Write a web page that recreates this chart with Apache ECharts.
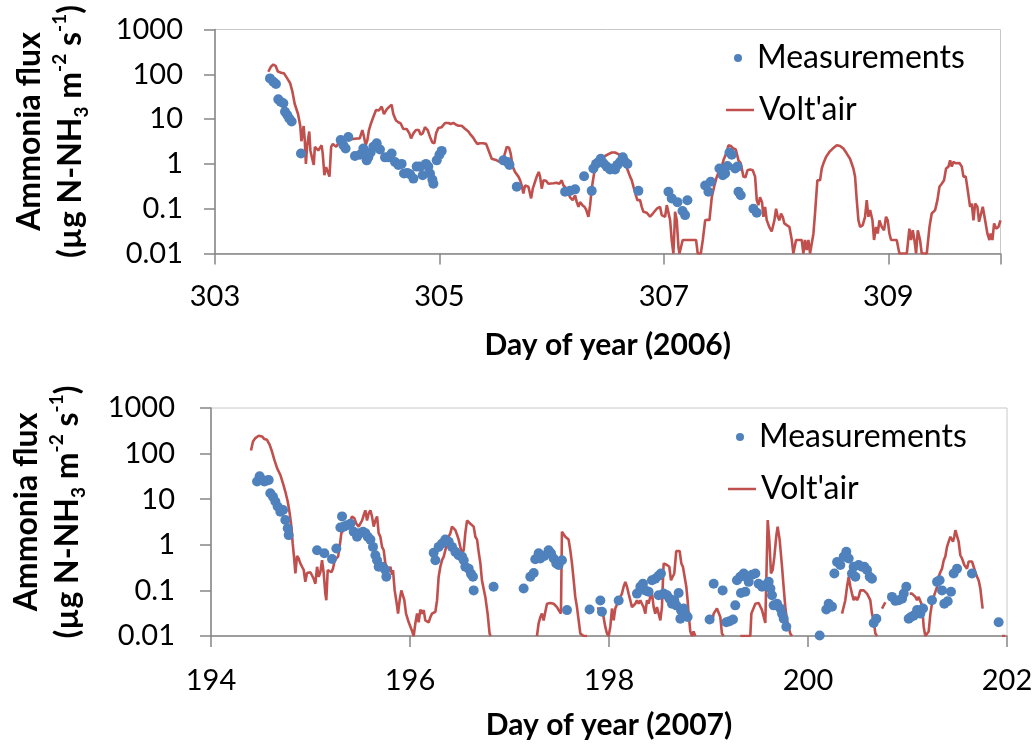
<!DOCTYPE html>
<html>
<head>
<meta charset="utf-8">
<script src="https://cdn.jsdelivr.net/npm/echarts@6/dist/echarts.min.js"></script>
<style>
  html, body { margin: 0; padding: 0; background: #fff; }
  #chart { width: 1035px; height: 745px; }
</style>
</head>
<body>
<div id="chart"></div>
<script>
// y tick labels (log axis, both panels)
const yTickLabels = ['0.01', '0.1', '1', '10', '100', '1000']
const xTicks2006 = [303, 305, 307, 309]
const xTicks2007 = [194, 196, 198, 200, 202]

// --- 2006 : Volt'air model
const line2006Day = [
  303.475, 303.50, 303.52, 303.54, 303.56, 303.59, 303.615, 303.645, 303.67, 303.69, 303.71, 303.74,
  303.76, 303.77, 303.79, 303.80, 303.81, 303.82, 303.84, 303.85, 303.87, 303.88, 303.89, 303.905,
  303.92, 303.935, 303.95, 303.96, 303.975, 303.99, 304.00, 304.02, 304.035, 304.05, 304.065, 304.08,
  304.095, 304.14, 304.23, 304.26, 304.29, 304.313, 304.328, 304.343, 304.358, 304.372, 304.39, 304.41,
  304.435, 304.46, 304.485, 304.506, 304.53, 304.554, 304.574, 304.589, 304.613, 304.634, 304.655, 304.678,
  304.708, 304.732, 304.747, 304.768, 304.791, 304.815, 304.833, 304.851, 304.871, 304.895, 304.916, 304.937,
  304.955, 304.97, 304.99, 305.02, 305.05, 305.08, 305.10, 305.124, 305.148, 305.171, 305.198, 305.228,
  305.258, 305.278, 305.302, 305.32, 305.338, 305.362, 305.39, 305.416, 305.428, 305.445, 305.466, 305.481,
  305.511, 305.54, 305.57, 305.6, 305.62, 305.635, 305.653, 305.674, 305.689, 305.704, 305.719, 305.733,
  305.748, 305.763, 305.778, 305.793, 305.808, 305.817, 305.832, 305.846, 305.867, 305.885, 305.897, 305.912,
  305.927, 305.95, 305.971, 305.986, 306.016, 306.045, 306.069, 306.09, 306.105, 306.135, 306.149, 306.164,
  306.188, 306.209, 306.224, 306.239, 306.253, 306.274, 306.292, 306.307, 306.328, 306.343, 306.357, 306.378,
  306.396, 306.417, 306.447, 306.476, 306.506, 306.536, 306.565, 306.595, 306.625, 306.655, 306.684, 306.699,
  306.714, 306.729, 306.75, 306.764, 306.788, 306.803, 306.818, 306.848, 306.877, 306.907, 306.937, 306.952,
  306.966, 306.981, 306.996, 307.011, 307.026, 307.041, 307.056, 307.07, 307.085, 307.094, 307.1, 307.115,
  307.13, 307.139, 307.151, 307.168, 307.204, 307.234, 307.264, 307.287, 307.302, 307.329, 307.347, 307.368,
  307.388, 307.406, 307.427, 307.448, 307.472, 307.495, 307.516, 307.531, 307.555, 307.576, 307.596, 307.62,
  307.641, 307.665, 307.685, 307.709, 307.727, 307.745, 307.769, 307.792, 307.813, 307.828, 307.842, 307.857,
  307.875, 307.887, 307.902, 307.917, 307.94, 307.961, 307.976, 307.985, 308.0, 308.015, 308.03, 308.044,
  308.059, 308.074, 308.095, 308.119, 308.14, 308.154, 308.178, 308.199, 308.229, 308.243, 308.258, 308.273,
  308.288, 308.303, 308.318, 308.333, 308.347, 308.368, 308.392, 308.407, 308.422, 308.446, 308.475, 308.505,
  308.541, 308.57, 308.6, 308.63, 308.659, 308.689, 308.704, 308.719, 308.734, 308.749, 308.772, 308.793,
  308.808, 308.823, 308.838, 308.859, 308.873, 308.891, 308.906, 308.921, 308.942, 308.962, 308.98, 308.995,
  309.01, 309.025, 309.046, 309.075, 309.099, 309.135, 309.165, 309.188, 309.203, 309.218, 309.233, 309.248,
  309.263, 309.283, 309.298, 309.322, 309.343, 309.367, 309.387, 309.417, 309.438, 309.456, 309.476, 309.497,
  309.515, 309.536, 309.551, 309.566, 309.58, 309.604, 309.634, 309.655, 309.67, 309.69, 309.708, 309.729,
  309.744, 309.759, 309.774, 309.794, 309.809, 309.827, 309.842, 309.863, 309.883, 309.901, 309.913, 309.928,
  309.943, 309.961, 309.981, 310.0
]
const line2006Flux = [
  114, 150, 165, 155, 115, 108, 105, 80, 63, 41, 22, 13,
  7, 3.2, 7, 3.4, 1.0, 2.4, 5.3, 2.0, 1.2, 0.95, 2.4, 2.4,
  2.0, 2.2, 2.6, 1.7, 0.56, 0.85, 0.85, 0.52, 2.4, 2.8, 2.6, 2.4,
  2.8, 3.4, 3.6, 3.7, 3.7, 5.7, 4.0, 2.6, 3.4, 5.7, 8, 11,
  16, 15.5, 19, 13, 16.5, 19, 21, 13, 9.3, 8.5, 8, 6,
  6, 4.8, 3.7, 4.8, 5.7, 5.7, 4.5, 4.8, 6.6, 5.7, 4.0, 3.0,
  2.9, 4.8, 6.3, 6.6, 8.2, 8.2, 7.8, 8.2, 7.5, 7.1, 7.1, 6.1,
  5.3, 4.5, 3.8, 3.2, 2.8, 2.9, 2.9, 2.8, 3.0, 1.8, 1.3, 1.2,
  1.2, 1.1, 1.3, 2.4, 2.3, 1.7, 0.87, 0.66, 0.61, 0.52, 0.43, 0.33,
  0.22, 0.33, 0.33, 0.31, 0.31, 0.17, 0.28, 0.36, 0.52, 0.66, 0.52, 0.28,
  0.43, 0.42, 0.36, 0.38, 0.37, 0.38, 0.36, 0.43, 0.33, 0.28, 0.22, 0.18,
  0.155, 0.2, 0.14, 0.11, 0.14, 0.12, 0.11, 0.096, 0.066, 0.12, 0.28, 0.61,
  0.87, 1.1, 1.3, 1.5, 1.65, 1.8, 1.8, 1.65, 1.45, 1.03, 0.66, 0.52,
  0.43, 0.31, 0.2, 0.155, 0.155, 0.11, 0.085, 0.081, 0.066, 0.081, 0.1, 0.11,
  0.11, 0.072, 0.078, 0.066, 0.12, 0.13, 0.055, 0.02, 0.01, 0.033, 0.085, 0.055,
  0.014, 0.01, 0.01, 0.02, 0.02, 0.02, 0.02, 0.02, 0.01, 0.01, 0.02, 0.055,
  0.057, 0.055, 0.18, 0.31, 0.52, 0.72, 0.87, 1.2, 1.7, 2.6, 2.5, 2.2,
  2.1, 1.2, 1.03, 0.52, 0.5, 0.72, 0.75, 0.72, 0.52, 0.155, 0.12, 0.18,
  0.14, 0.066, 0.11, 0.055, 0.039, 0.031, 0.031, 0.055, 0.1, 0.066, 0.055, 0.078,
  0.066, 0.047, 0.043, 0.039, 0.02, 0.01, 0.02, 0.02, 0.02, 0.01, 0.02, 0.012,
  0.02, 0.01, 0.01, 0.028, 0.078, 0.43, 0.43, 0.79, 1.03, 1.45, 1.85, 2.2,
  2.6, 2.5, 2.2, 1.7, 1.3, 0.79, 0.52, 0.155, 0.055, 0.039, 0.043, 0.066,
  0.155, 0.066, 0.093, 0.055, 0.02, 0.039, 0.028, 0.055, 0.039, 0.033, 0.066, 0.055,
  0.028, 0.02, 0.02, 0.02, 0.01, 0.01, 0.01, 0.036, 0.02, 0.033, 0.02, 0.01,
  0.033, 0.02, 0.01, 0.01, 0.01, 0.039, 0.078, 0.093, 0.155, 0.31, 0.36, 0.43,
  0.79, 0.87, 1.2, 0.87, 1.1, 1.03, 1.05, 0.87, 0.52, 0.52, 0.26, 0.11,
  0.13, 0.055, 0.13, 0.11, 0.051, 0.078, 0.11, 0.055, 0.028, 0.02, 0.028, 0.02,
  0.047, 0.036, 0.039, 0.055
]

// --- 2006 : measurements
const dots2006Day = [
  303.49, 303.52, 303.543, 303.564, 303.585, 303.609, 303.624, 303.644, 303.662, 303.683, 303.766,
  304.12, 304.144, 304.164, 304.188, 304.247, 304.292, 304.322, 304.337, 304.352, 304.366, 304.387,
  304.411, 304.441, 304.47, 304.515, 304.545, 304.574, 304.604, 304.634, 304.663, 304.684, 304.714,
  304.738, 304.768, 304.797, 304.827, 304.851, 304.88, 304.901, 304.916, 304.937, 304.946, 304.976,
  305.0, 305.02, 305.57, 305.606, 305.624, 305.689, 306.12, 306.164, 306.209, 306.289, 306.357,
  306.372, 306.396, 306.417, 306.438, 306.462, 306.491, 306.521, 306.545, 306.565, 306.586, 306.61,
  306.634, 306.655, 306.675, 306.773, 307.041, 307.07, 307.121, 307.166, 307.189, 307.21, 307.368,
  307.397, 307.418, 307.495, 307.525, 307.546, 307.567, 307.585, 307.605, 307.635, 307.656, 307.665,
  307.685, 307.798, 307.828
]
const dots2006Flux = [
  81, 68, 61, 27.6, 24.4, 22.5, 14.6, 12.3, 10.3, 8.8, 1.7,
  3.4, 2.6, 2.2, 4.0, 1.5, 1.6, 2.2, 1.7, 1.2, 1.4, 1.8,
  2.4, 2.9, 2.1, 1.4, 1.4, 1.7, 1.1, 0.95, 1.0, 0.61, 0.63,
  0.59, 0.47, 0.87, 0.87, 0.56, 1.0, 0.87, 0.61, 0.45, 0.36, 1.2,
  1.6, 1.95, 1.2, 1.1, 0.95, 0.31, 0.24, 0.25, 0.27, 0.53, 0.25,
  0.79, 1.0, 1.1, 1.3, 1.03, 0.87, 0.75, 0.79, 0.75, 0.95, 1.1,
  1.4, 1.1, 1.0, 0.25, 0.24, 0.17, 0.14, 0.089, 0.072, 0.155, 0.33,
  0.24, 0.4, 0.79, 0.56, 0.61, 0.9, 1.8, 1.6, 0.79, 0.87, 0.24,
  0.2, 0.1, 0.081
]

// --- 2007 : Volt'air model (null = no value)
const line2007Day = [
  194.402, 194.422, 194.446, 194.479, 194.513, 194.536, 194.563, 194.59, 194.613, 194.637, 194.664, 194.697,
  194.724, 194.747, 194.771, 194.791, 194.808, 194.821, 194.834, 194.848, 194.865, 194.881, 194.898, 194.915,
  194.932, 194.948, 194.965, 194.982, 194.999, 195.015, 195.032, 195.049, 195.066, 195.082, 195.099, 195.116,
  195.133, 195.149, 195.159, 195.173, 195.193, 195.21, 195.226, 195.243, 195.26, 195.277, 195.293, 195.31,
  195.327, 195.344, 195.36, 195.377, 195.401, 195.417, 195.441, 195.461, 195.484, 195.501, 195.518, 195.535,
  195.551, 195.568, 195.585, 195.602, 195.618, 195.635, 195.652, 195.669, 195.685, 195.702, 195.719, 195.736,
  195.752, 195.769, 195.786, 195.803, 195.819, 195.829, 195.846, 195.863, 195.88, 195.896, 195.913, 195.93,
  195.943, 195.96, 195.977, 195.987, 196.004, 196.02, 196.037, 196.054, 196.071, 196.087, 196.104, 196.121,
  196.138, 196.154, 196.171, 196.188, 196.205, 196.221, 196.238, 196.255, 196.272, 196.288, 196.305, 196.322,
  196.339, 196.355, 196.372, 196.389, 196.406, 196.422, 196.439, 196.456, 196.473, 196.489, 196.506, 196.523,
  196.54, 196.556, 196.573, 196.59, 196.607, 196.623, 196.64, 196.657, 196.674, 196.69, 196.707, 196.723,
  196.757, 196.78, 196.8, 196.81,
  197.0,
  197.276, 197.293, 197.31, 197.326, 197.343, 197.36, 197.377, 197.41, 197.444, 197.477, 197.494, 197.517,
  197.527, 197.544, 197.561, 197.594, 197.611, 197.628, 197.645, 197.661, 197.678, 197.695, 197.712, 197.745,
  197.779,
  197.83,
  197.879, 197.896, 197.919, 197.939, 197.963, 197.98, 197.996, 198.013, 198.03, 198.047, 198.063, 198.08,
  198.097, 198.114, 198.13, 198.147, 198.164, 198.181, 198.197, 198.214, 198.231, 198.248, 198.264, 198.281,
  198.298, 198.315, 198.331, 198.348, 198.365, 198.382, 198.398, 198.415, 198.432, 198.449, 198.465, 198.482,
  198.499, 198.516, 198.532, 198.549, 198.566, 198.583, 198.606, 198.623, 198.643, 198.656, 198.676, 198.69,
  198.71, 198.727, 198.743, 198.76, 198.777, 198.79, 198.8, 198.817, 198.834, 198.85, 198.867,
  198.95,
  199.035, 199.052, 199.085, 199.102, 199.119, 199.135, 199.152,
  199.25,
  199.32, 199.42, 199.431, 199.471, 199.504, 199.538, 199.571, 199.595, 199.612, 199.628, 199.645, 199.662,
  199.682, 199.695, 199.715, 199.739, 199.755, 199.772, 199.789, 199.806, 199.822, 199.839,
  200.1,
  200.342, 200.359, 200.375, 200.392, 200.409, 200.426, 200.442, 200.459, 200.476, 200.493, 200.509, 200.526,
  200.543, 200.56, 200.576, 200.593, 200.61, 200.626, 200.643, 200.66, 200.677, 200.694,
  200.72,
  200.744, 200.777,
  200.9,
  201.022, 201.045, 201.062, 201.079, 201.096, 201.112, 201.129, 201.146, 201.163, 201.179, 201.196, 201.213,
  201.23, 201.246, 201.263, 201.28, 201.297, 201.313, 201.33, 201.347, 201.364, 201.38, 201.397, 201.414,
  201.431, 201.447, 201.457, 201.47, 201.481, 201.498, 201.514, 201.531, 201.548, 201.571, 201.598, 201.615,
  201.632, 201.648, 201.665, 201.682, 201.699, 201.715, 201.732, 201.755,
  201.85,
  201.95, 201.983
]
const line2007Flux = [
  117, 185, 219, 246, 238, 208, 200, 156, 111, 73, 48, 34,
  22, 14.7, 8.9, 4.9, 2.5, 1.07, 0.55, 0.235, 0.57, 0.5, 0.39, 0.33,
  0.28, 0.154, 0.24, 0.235, 0.25, 0.235, 0.18, 0.14, 0.33, 0.2, 0.25, 0.46,
  0.235, 0.085, 0.061, 0.28, 0.28, 0.25, 0.3, 0.46, 0.43, 0.55, 0.9, 1.8,
  1.9, 2.3, 2.5, 2.9, 3.4, 4.2, 3.8, 2.9, 2.5, 2.5, 3.4, 4.5,
  5.7, 3.4, 4.9, 5.7, 4.2, 2.5, 3.4, 4.2, 1.8, 1.5, 0.9, 0.76,
  0.39, 0.33, 0.28, 0.33, 0.22, 0.28, 0.1, 0.058, 0.031, 0.061, 0.1, 0.11,
  0.061, 0.031, 0.029, 0.02, 0.019, 0.013, 0.01, 0.019, 0.031, 0.02, 0.038, 0.031,
  0.037, 0.022, 0.024, 0.02, 0.026, 0.031, 0.031, 0.034, 0.061, 0.2, 0.33, 0.46,
  0.55, 0.76, 1.07, 1.5, 1.8, 2.5, 2.5, 2.1, 1.66, 1.3, 0.9, 0.65,
  0.76, 1.8, 3.4, 3.3, 2.9, 3.2, 2.5, 1.5, 1.3, 0.7, 0.4, 0.167,
  0.072, 0.031, 0.0113, 0.01,
  null,
  0.01, 0.019, 0.026, 0.031, 0.022, 0.034, 0.051, 0.053, 0.051, 0.043, 0.037, 0.031,
  1.94, 1.94, 1.5, 1.3, 0.76, 0.39, 0.167, 0.072, 0.043, 0.022, 0.0113, 0.01,
  0.01,
  null,
  0.04, 0.038, 0.04, 0.031, 0.0158, 0.0113, 0.01, 0.0158, 0.04, 0.022, 0.04, 0.043,
  0.061, 0.072, 0.085, 0.12, 0.154, 0.12, 0.085, 0.061, 0.043, 0.04, 0.051, 0.061,
  0.051, 0.061, 0.051, 0.043, 0.031, 0.061, 0.051, 0.072, 0.085, 0.043, 0.031, 0.043,
  0.031, 0.022, 0.043, 0.39, 0.39, 0.36, 0.33, 0.167, 0.154, 0.235, 0.73, 0.76,
  0.73, 0.39, 0.33, 0.2, 0.12, 0.061, 0.031, 0.0126, 0.01, 0.0126, 0.01,
  null,
  0.0193, 0.031, 0.04, 0.037, 0.026, 0.0113, 0.01,
  null,
  0.01, 0.01, 0.031, 0.051, 0.053, 0.037, 0.0193, 3.5, 1.2, 0.235, 0.28, 0.55,
  1.6, 2.5, 1.3, 0.33, 0.12, 0.043, 0.022, 0.0158, 0.0113, 0.01,
  null,
  0.031, 0.031, 0.061, 0.12, 0.2, 0.12, 0.085, 0.061, 0.072, 0.061, 0.072, 0.1,
  0.093, 0.1, 0.1, 0.085, 0.072, 0.061, 0.031, 0.022, 0.0113, 0.01,
  null,
  0.04, 0.055,
  null,
  0.085, 0.085, 0.093, 0.072, 0.061, 0.072, 0.066, 0.047, 0.0158, 0.01, 0.01, 0.0126,
  0.031, 0.051, 0.072, 0.093, 0.12, 0.2, 0.25, 0.3, 0.46, 0.55, 0.9, 1.17,
  1.5, 1.3, 1.17, 1.5, 2.1, 1.94, 1.17, 0.59, 0.5, 0.36, 0.3, 0.43,
  0.39, 0.43, 0.33, 0.25, 0.2, 0.167, 0.11, 0.04,
  null,
  0.01, 0.01
]

// --- 2007 : measurements
const dots2007Day = [
  194.463, 194.489, 194.513, 194.536, 194.563, 194.58, 194.596, 194.623, 194.647, 194.67, 194.697, 194.724,
  194.747, 194.771, 194.781, 195.066, 195.139, 195.216, 195.26, 195.317, 195.3, 195.334, 195.367, 195.401,
  195.434, 195.468, 195.494, 195.528, 195.551, 195.575, 195.602, 195.628, 195.652, 195.669, 195.685, 195.719,
  195.752, 195.762, 196.238, 196.255, 196.288, 196.322, 196.355, 196.389, 196.422, 196.456, 196.489, 196.523,
  196.54, 196.556, 196.59, 196.613, 196.633, 196.64, 196.84, 197.142, 197.209, 197.243, 197.259, 197.293,
  197.31, 197.35, 197.393, 197.417, 197.444, 197.47, 197.494, 197.527, 197.578, 197.805, 197.913, 197.929,
  198.097, 198.281, 198.315, 198.341, 198.365, 198.398, 198.432, 198.465, 198.499, 198.522, 198.499, 198.549,
  198.583, 198.609, 198.633, 198.656, 198.676, 198.7, 198.723, 198.75, 198.777, 198.79, 198.717, 199.011,
  199.052, 199.142, 199.179, 199.212, 199.246, 199.269, 199.286, 199.32, 199.346, 199.326, 199.354, 199.37,
  199.404, 199.437, 199.471, 199.504, 199.538, 199.571, 199.605, 199.622, 199.638, 199.655, 199.689, 199.722,
  199.739, 199.756, 199.782, 200.117, 200.184, 200.208, 200.241, 200.265, 200.292, 200.325, 200.359, 200.385,
  200.409, 200.442, 200.459, 200.476, 200.509, 200.543, 200.566, 200.593, 200.62, 200.643, 200.66, 200.687,
  200.844, 200.878, 200.911, 200.945, 200.962, 200.988, 201.012, 201.035, 201.062, 201.096, 201.129, 201.156,
  201.246, 201.297, 201.323, 201.347, 201.37, 201.404, 201.437, 201.464, 201.498, 201.648, 201.916
]
const dots2007Flux = [
  24.4, 32, 26.4, 24.4, 25.6, 26.4, 13.5, 11.3, 8.9, 6.9, 5.3, 5.8,
  3.5, 2.3, 1.63, 0.76, 0.65, 0.49, 0.83, 4.2, 2.4, 2.5, 2.7, 2.9,
  1.94, 1.5, 1.8, 1.94, 1.8, 1.5, 1.3, 0.9, 0.59, 0.46, 0.33, 0.33,
  0.28, 0.2, 0.67, 0.46, 0.9, 1.07, 1.3, 1.17, 0.9, 0.7, 0.59, 0.55,
  0.46, 0.33, 0.3, 0.23, 0.2, 0.1, 0.12, 0.11, 0.2, 0.24, 0.48, 0.65,
  0.5, 0.57, 0.76, 0.65, 0.5, 0.39, 0.36, 0.46, 0.037, 0.038, 0.06, 0.034,
  0.06, 0.085, 0.12, 0.14, 0.1, 0.093, 0.167, 0.18, 0.21, 0.235, 0.078, 0.085,
  0.078, 0.066, 0.051, 0.061, 0.047, 0.088, 0.037, 0.04, 0.0285, 0.026, 0.024, 0.023,
  0.14, 0.1, 0.02, 0.021, 0.023, 0.047, 0.167, 0.2, 0.21, 0.088, 0.235, 0.093,
  0.154, 0.22, 0.235, 0.14, 0.12, 0.13, 0.154, 0.11, 0.078, 0.047, 0.051, 0.04,
  0.031, 0.024, 0.016, 0.0103, 0.038, 0.051, 0.044, 0.235, 0.42, 0.36, 0.55, 0.7,
  0.5, 0.235, 0.33, 0.2, 0.36, 0.33, 0.33, 0.28, 0.2, 0.18, 0.0193, 0.024,
  0.072, 0.059, 0.061, 0.066, 0.085, 0.12, 0.024, 0.026, 0.028, 0.037, 0.031, 0.04,
  0.061, 0.154, 0.167, 0.1, 0.051, 0.058, 0.093, 0.235, 0.3, 0.235, 0.02
]

const FONT = 'Lato, "Open Sans", sans-serif'
const BLUE = '#4F81BD'
const RED = '#C0504D'

function pairs(days, flux) {
  return days.map((d, i) => [d, flux[i] === null ? '-' : flux[i]])
}

function xAxisFor(idx, min, max, ticks, name, gap, margin) {
  return {
    gridIndex: idx,
    type: 'value',
    min: min,
    max: max,
    interval: 2,
    name: name,
    nameLocation: 'middle',
    nameGap: gap,
    nameTextStyle: { fontFamily: FONT, fontSize: 30, fontWeight: 'bold', color: '#000' },
    splitLine: { show: false },
    axisLine: { lineStyle: { color: '#868686', width: 1.5 } },
    axisTick: { inside: false, length: 11, lineStyle: { color: '#868686', width: 1.5 } },
    axisLabel: {
      margin: margin,
      fontFamily: FONT,
      fontSize: 29,
      color: '#000',
      formatter: (v) => (ticks.indexOf(v) >= 0 ? String(v) : '')
    }
  }
}

function yAxisFor(idx, margin, gap) {
  return {
    gridIndex: idx,
    type: 'log',
    logBase: 10,
    min: 0.01,
    max: 1000,
    name: '{b|Ammonia flux}\n{b|(µg N-NH}{sub|3}{b| m}{sup|-2}{b| s}{sup|-1}{b|)}',
    nameLocation: 'middle',
    nameRotate: 90,
    nameGap: gap,
    nameTextStyle: {
      padding: [0, 0, 0, 20],
      rich: {
        b: { fontFamily: FONT, fontSize: 32, fontWeight: 'bold', color: '#000', lineHeight: 41 },
        sub: { fontFamily: FONT, fontSize: 19, fontWeight: 'bold', color: '#000', verticalAlign: 'bottom' },
        sup: { fontFamily: FONT, fontSize: 19, fontWeight: 'bold', color: '#000', verticalAlign: 'top' }
      }
    },
    splitLine: { show: false },
    minorTick: { show: false },
    axisLine: { show: true, lineStyle: { color: '#868686', width: 1.5 } },
    axisTick: { show: true, inside: false, length: 11, lineStyle: { color: '#868686', width: 1.5 } },
    axisLabel: {
      margin: margin,
      fontFamily: FONT,
      fontSize: 29,
      color: '#000',
      formatter: (v) => yTickLabels[Math.round(Math.log10(v)) + 2] || ''
    }
  }
}

// one legend per entry so the dot and the line can have their own icon sizes
function legendFor(name, left, top, iconHeight, icon) {
  return {
    orient: 'vertical',
    left: left,
    top: top,
    itemWidth: 28,
    itemHeight: iconHeight,
    icon: icon,
    textStyle: { fontFamily: FONT, fontSize: 32, color: '#000', lineHeight: 32 },
    data: [name]
  }
}

const chart = echarts.init(document.getElementById('chart'), null, { renderer: 'canvas' })

chart.setOption({
  animation: false,
  backgroundColor: '#fff',
  grid: [
    { left: 215, top: 29.5, width: 785.5, height: 224, show: true, borderColor: '#c8c8c8', borderWidth: 1, outerBoundsMode: 'none' },
    { left: 211, top: 408, width: 796, height: 228, show: true, borderColor: '#c8c8c8', borderWidth: 1, outerBoundsMode: 'none' }
  ],
  legend: [
    legendFor('Measurements', 729, 37, 8, 'circle'),
    legendFor("Volt'air", 721, 89, 2.5, 'rect'),
    legendFor('Measurements', 731, 416, 8, 'circle'),
    legendFor("Volt'air", 723, 468, 2.5, 'rect')
  ],
  xAxis: [
    xAxisFor(0, 303, 310, xTicks2006, 'Day of year (2006)', 77, 29),
    xAxisFor(1, 194, 202, xTicks2007, 'Day of year (2007)', 74, 30)
  ],
  yAxis: [yAxisFor(0, 32, 124), yAxisFor(1, 36, 123)],
  series: [
    {
      name: "Volt'air", type: 'line', xAxisIndex: 0, yAxisIndex: 0, z: 2,
      symbol: 'none', connectNulls: false, clip: true,
      lineStyle: { color: RED, width: 2.6 }, itemStyle: { color: RED },
      data: pairs(line2006Day, line2006Flux)
    },
    {
      name: 'Measurements', type: 'scatter', xAxisIndex: 0, yAxisIndex: 0, z: 3,
      symbol: 'circle', symbolSize: 10, itemStyle: { color: BLUE, opacity: 1 },
      data: pairs(dots2006Day, dots2006Flux)
    },
    {
      name: "Volt'air", type: 'line', xAxisIndex: 1, yAxisIndex: 1, z: 2,
      symbol: 'none', connectNulls: false, clip: true,
      lineStyle: { color: RED, width: 2.6 }, itemStyle: { color: RED },
      data: pairs(line2007Day, line2007Flux)
    },
    {
      name: 'Measurements', type: 'scatter', xAxisIndex: 1, yAxisIndex: 1, z: 3,
      symbol: 'circle', symbolSize: 10, itemStyle: { color: BLUE, opacity: 1 },
      data: pairs(dots2007Day, dots2007Flux)
    }
  ]
})
</script>
</body>
</html>
